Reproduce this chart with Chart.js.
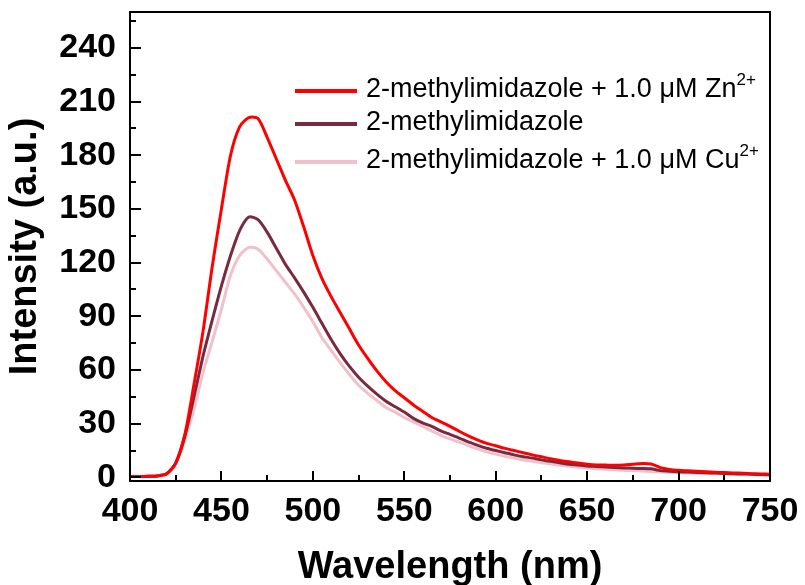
<!DOCTYPE html>
<html>
<head>
<meta charset="utf-8">
<script src="https://cdn.jsdelivr.net/npm/chart.js@4.4.1/dist/chart.umd.min.js"></script>
<style>
  html, body { margin: 0; padding: 0; background: #fff; }
  #wrap { position: relative; width: 805px; height: 585px; }
  #c { position: absolute; left: 0; top: 0; }
  .lg { position: absolute; left: 295px; height: 30px; display: flex; align-items: center;
        font-family: 'Liberation Sans', Arial, sans-serif; font-size: 27px; line-height: 30px; color: #000; white-space: nowrap; }
  .lg .ln { display: inline-block; width: 62px; height: 4px; margin-right: 9px; position: relative; top: 3px; }
  .lg .sup { position: relative; top: -12px; font-size: 17px; line-height: 0; }
</style>
</head>
<body>
<div id="wrap">
  <canvas id="c" width="805" height="585"></canvas>
  <div id="legend"></div>
</div>
<script>
// ---- data ----
const wavelengths = [400,405,410,415,420,425,430,435,440,445,450,455,460,465,470,475,480,485,490,495,
  500,505,510,515,520,525,530,535,540,545,550,555,560,565,570,575,580,585,590,595,
  600,605,610,615,620,625,630,635,640,645,650,655,660,665,670,675,680,685,690,695,
  700,705,710,715,720,725,730,735,740,745,750];

const znValues = [0.5,0.5,0.6,0.8,2.0,8,24,52,82,118,150,180,196,201,200.5,190,178,166,155,140,
  124,111,101,92,83,74,66.5,59.5,53.5,48.5,44.5,40.5,37,33.5,31,28.5,25.8,23.2,21,19,
  17.7,16.2,15,13.8,12.6,11.5,10.4,9.5,8.7,8,7.4,7,6.9,6.8,7,7.4,7.8,7.5,5.5,4.5,
  4,3.7,3.4,3.1,2.9,2.7,2.5,2.3,2.1,1.9,1.8];

const mimValues = [0.5,0.5,0.6,0.8,2.0,8,23,45,68,88,107,124,138,145.5,144,137,128,119,111.5,103.5,
  95,86,77,69,62,56,51,46.5,42.5,39.5,36.5,33,30.5,28.5,26,24,22,19.8,18,16.3,
  15,13.8,12.6,11.6,10.8,9.8,9,8.2,7.4,6.9,6.4,6.1,5.8,5.5,5.3,5.1,5,4.8,3.8,3.5,
  3.2,3,2.8,2.6,2.4,2.2,2,1.9,1.8,1.6,1.5];

const cuValues = [0.5,0.5,0.6,0.8,2.0,7.5,21,38,59,76,94,113,124,128.5,127.5,122,115.5,109,102.5,95,
  87,78,71,64,57.5,51.5,47,43,39,36.5,33.5,31,28.5,26,23.5,21.5,19.8,17.8,16,14.3,
  13,11.8,10.8,9.7,9,8.2,7.5,6.8,6.2,5.7,5.2,4.8,4.6,4.3,4,3.8,3.6,3.3,3,2.8,
  2.6,2.4,2.3,2.2,2.1,2,1.9,1.7,1.6,1.5,1.4];

const seriesLabels = ['2-methylimidazole + 1.0 μM Zn²⁺', '2-methylimidazole', '2-methylimidazole + 1.0 μM Cu²⁺'];
const seriesColors = ['#ff0000', '#7a2a3e', '#f2c0c8'];
const xTickLabels = [400,450,500,550,600,650,700,750];
const yTickLabels = [0,30,60,90,120,150,180,210,240];

// ---- chart ----
const toPts = vals => wavelengths.map((w, i) => ({x: w, y: vals[i]}));
const FONT = "'Liberation Sans', Arial, sans-serif";

const inwardTicks = {
  id: 'inwardTicks',
  afterDatasetsDraw(chart) {
    const {ctx, chartArea: a, scales: {x, y}} = chart;
    ctx.save();
    ctx.strokeStyle = '#000';
    ctx.lineWidth = 2;
    ctx.lineCap = 'butt';
    for (let v = 400; v <= 750; v += 25) {
      const px = Math.round(x.getPixelForValue(v));
      const len = (v % 50 === 0) ? 10 : 6;
      ctx.beginPath(); ctx.moveTo(px, a.bottom); ctx.lineTo(px, a.bottom - len); ctx.stroke();
    }
    for (let v = 0; v <= 255; v += 15) {
      const py = Math.round(y.getPixelForValue(v));
      const len = (v % 30 === 0) ? 11 : 6;
      ctx.beginPath(); ctx.moveTo(a.left, py); ctx.lineTo(a.left + len, py); ctx.stroke();
    }
    ctx.strokeRect(a.left, a.top, a.right - a.left, a.bottom - a.top);
    ctx.restore();
  }
};

const chart = new Chart(document.getElementById('c'), {
  type: 'line',
  data: {
    datasets: [
      {label: seriesLabels[0], data: toPts(znValues), borderColor: seriesColors[0], borderWidth: 3, pointRadius: 0, tension: 0.25},
      {label: seriesLabels[1], data: toPts(mimValues), borderColor: seriesColors[1], borderWidth: 3, pointRadius: 0, tension: 0.25},
      {label: seriesLabels[2], data: toPts(cuValues), borderColor: seriesColors[2], borderWidth: 3, pointRadius: 0, tension: 0.25}
    ]
  },
  options: {
    responsive: false,
    animation: false,
    layout: {padding: {left: 0, right: 35, top: 12, bottom: 0}},
    plugins: {legend: {display: false}, tooltip: {enabled: false}},
    scales: {
      x: {
        type: 'linear', min: 400, max: 750,
        grid: {display: false, drawTicks: false},
        border: {display: false},
        afterBuildTicks: s => { s.ticks = xTickLabels.map(v => ({value: v})); },
        afterFit: s => { s.height = 104; s.paddingLeft = 0; s.paddingRight = 0; },
        ticks: {padding: 10, color: '#000', font: {family: FONT, size: 34, weight: 'bold'}, maxRotation: 0, autoSkip: false},
        title: {display: true, text: 'Wavelength (nm)', color: '#000', padding: {top: 0, bottom: -2},
                font: {family: FONT, size: 38, weight: 'bold', lineHeight: 1}}
      },
      y: {
        type: 'linear', min: -2, max: 260,
        grid: {display: false, drawTicks: false},
        border: {display: false},
        afterBuildTicks: s => { s.ticks = yTickLabels.map(v => ({value: v})); },
        afterFit: s => { s.width = 130; s.paddingTop = 0; s.paddingBottom = 0; },
        ticks: {padding: 14, color: '#000', font: {family: FONT, size: 34, weight: 'bold'}, autoSkip: false},
        title: {display: true, text: 'Intensity (a.u.)', color: '#000', padding: {top: 7, bottom: 0},
                font: {family: FONT, size: 38, weight: 'bold', lineHeight: 1}}
      }
    }
  },
  plugins: [inwardTicks]
});

// ---- legend (HTML, built from the datasets) ----
const legendTops = [73, 106, 144];
const lg = document.getElementById('legend');
chart.data.datasets.forEach((ds, i) => {
  const row = document.createElement('div');
  row.className = 'lg';
  row.style.top = legendTops[i] + 'px';
  const ln = document.createElement('span');
  ln.className = 'ln';
  ln.style.background = ds.borderColor;
  row.appendChild(ln);
  const m = ds.label.match(/^(.*?)([²⁺]+)$/);
  const txt = document.createElement('span');
  if (m) {
    txt.appendChild(document.createTextNode(m[1]));
    const sup = document.createElement('span');
    sup.className = 'sup';
    sup.textContent = m[2].replace('²', '2').replace('⁺', '+');
    txt.appendChild(sup);
  } else {
    txt.textContent = ds.label;
  }
  row.appendChild(txt);
  lg.appendChild(row);
});
</script>
</body>
</html>
